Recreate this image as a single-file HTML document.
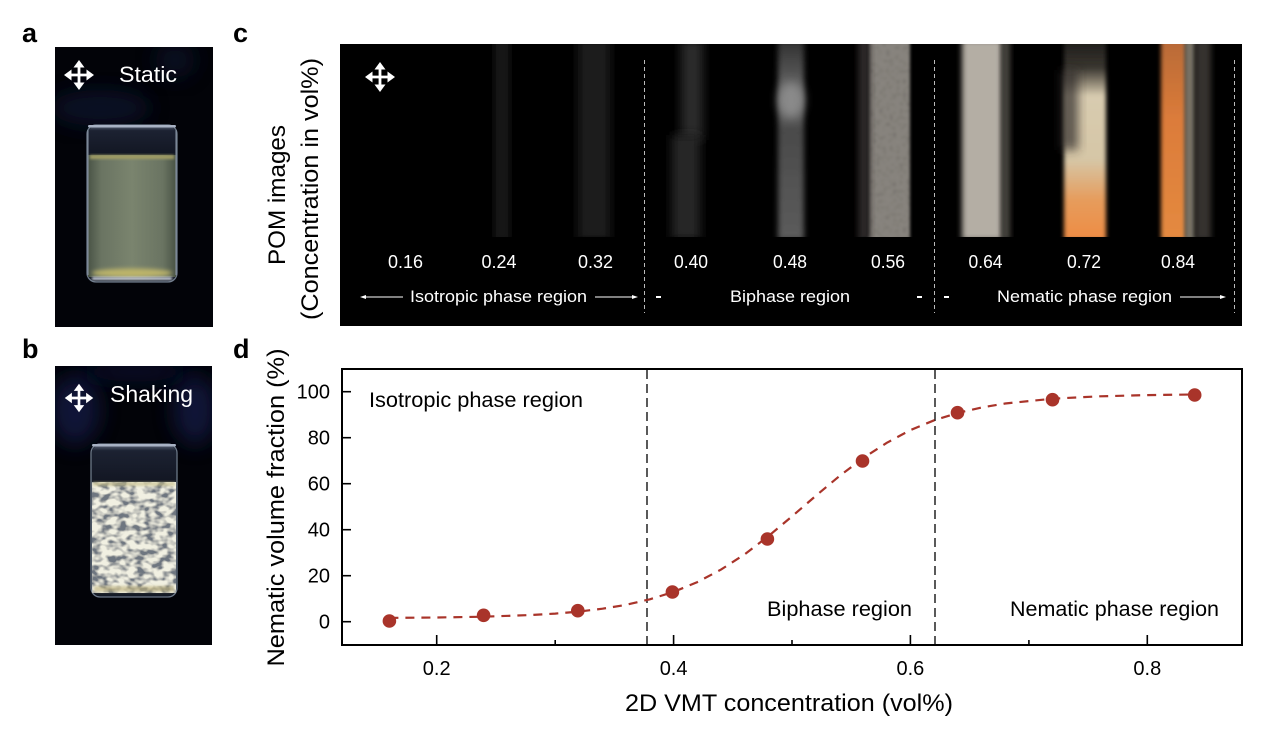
<!DOCTYPE html>
<html>
<head>
<meta charset="utf-8">
<style>
html,body{margin:0;padding:0;background:#fff;}
svg{display:block;}
</style>
</head>
<body>
<svg xmlns="http://www.w3.org/2000/svg" width="1268" height="746" viewBox="0 0 1268 746" font-family="'Liberation Sans', Arial, sans-serif">
<defs>
  <filter id="b1" x="-50%" y="-50%" width="200%" height="200%"><feGaussianBlur stdDeviation="1.2"/></filter>
  <filter id="b2" x="-50%" y="-50%" width="200%" height="200%"><feGaussianBlur stdDeviation="2"/></filter>
  <filter id="b3" x="-50%" y="-50%" width="200%" height="200%"><feGaussianBlur stdDeviation="3"/></filter>
  <filter id="b5" x="-50%" y="-50%" width="200%" height="200%"><feGaussianBlur stdDeviation="5"/></filter>
  <filter id="b10" x="-50%" y="-50%" width="200%" height="200%"><feGaussianBlur stdDeviation="10"/></filter>
  <filter id="mottle" x="0" y="0" width="1" height="1">
    <feTurbulence type="fractalNoise" baseFrequency="0.11 0.16" numOctaves="2" seed="5" result="n"/>
    <feColorMatrix in="n" type="matrix" values="0 0 0 0 0.88  0 0 0 0 0.87  0 0 0 0 0.76  3.4 0 0 0 -1.1" result="c"/>
    <feComposite in="c" in2="SourceGraphic" operator="in" result="m"/>
    <feMerge><feMergeNode in="SourceGraphic"/><feMergeNode in="m"/></feMerge>
  </filter>
  <filter id="speck" x="-30%" y="0" width="160%" height="1">
    <feTurbulence type="fractalNoise" baseFrequency="0.3" numOctaves="1" seed="2" result="n"/>
    <feColorMatrix in="n" type="matrix" values="0 0 0 0 0.15  0 0 0 0 0.14  0 0 0 0 0.13  -3 0 0 0 1.5" result="c"/>
    <feComposite in="c" in2="SourceGraphic" operator="in" result="m"/>
    <feMerge><feMergeNode in="SourceGraphic"/><feMergeNode in="m"/></feMerge>
    <feGaussianBlur stdDeviation="0.8"/>
  </filter>
  <linearGradient id="liqA" x1="0" y1="0" x2="1" y2="0">
    <stop offset="0" stop-color="#4a5446"/>
    <stop offset="0.15" stop-color="#6a7462"/>
    <stop offset="0.5" stop-color="#7a846e"/>
    <stop offset="0.85" stop-color="#6a7462"/>
    <stop offset="1" stop-color="#4a5446"/>
  </linearGradient>
  <linearGradient id="glassTop" x1="0" y1="0" x2="0" y2="1">
    <stop offset="0" stop-color="#5a6478"/>
    <stop offset="0.15" stop-color="#1c2232"/>
    <stop offset="1" stop-color="#121622"/>
  </linearGradient>
  <linearGradient id="s072" x1="0" y1="0" x2="0" y2="1">
    <stop offset="0" stop-color="#1e1c1a"/>
    <stop offset="0.14" stop-color="#3a3630"/>
    <stop offset="0.28" stop-color="#d8ccb0"/>
    <stop offset="0.6" stop-color="#d6c6a6"/>
    <stop offset="0.8" stop-color="#e69c5c"/>
    <stop offset="1" stop-color="#ee8c44"/>
  </linearGradient>
  <linearGradient id="s084" x1="0" y1="0" x2="0" y2="1">
    <stop offset="0" stop-color="#b86a38"/>
    <stop offset="0.4" stop-color="#dc7c3a"/>
    <stop offset="1" stop-color="#e48a40"/>
  </linearGradient>
  <linearGradient id="s048" x1="0" y1="0" x2="0" y2="1">
    <stop offset="0" stop-color="#303030"/>
    <stop offset="0.3" stop-color="#707070"/>
    <stop offset="0.45" stop-color="#4a4a4a"/>
    <stop offset="1" stop-color="#5c5c5c"/>
  </linearGradient>
  <clipPath id="cphoto"><rect x="340" y="44" width="902" height="193"/></clipPath>
  <clipPath id="cpa"><rect x="55" y="47" width="158" height="280"/></clipPath>
  <clipPath id="cpb"><rect x="55" y="366" width="157" height="279"/></clipPath>
  <g id="cross">
    <line x1="-9" y1="0" x2="9" y2="0" stroke="#fff" stroke-width="2.8"/>
    <line x1="0" y1="-9" x2="0" y2="9" stroke="#fff" stroke-width="2.8"/>
    <polygon points="15,0 7.5,-5.5 7.5,5.5" fill="#fff"/>
    <polygon points="-15,0 -7.5,-5.5 -7.5,5.5" fill="#fff"/>
    <polygon points="0,-15 -5.5,-7.5 5.5,-7.5" fill="#fff"/>
    <polygon points="0,15 -5.5,7.5 5.5,7.5" fill="#fff"/>
  </g>
</defs>

<rect width="1268" height="746" fill="#fff"/>

<!-- panel labels -->
<text x="22" y="42" font-size="27" font-weight="bold" fill="#000">a</text>
<text x="22" y="358" font-size="27" font-weight="bold" fill="#000">b</text>
<text x="233" y="42" font-size="27" font-weight="bold" fill="#000">c</text>
<text x="233" y="358" font-size="27" font-weight="bold" fill="#000">d</text>

<!-- Panel a -->
<g clip-path="url(#cpa)">
  <rect x="55" y="47" width="158" height="280" fill="#020308"/>
  <ellipse cx="100" cy="108" rx="50" ry="18" fill="#0c1430" filter="url(#b10)" opacity="0.7"/>
  <ellipse cx="175" cy="60" rx="20" ry="18" fill="#0c1430" filter="url(#b10)" opacity="0.6"/>
  <!-- vial -->
  <rect x="87" y="125" width="90" height="157" rx="9" fill="#141a26" stroke="#6c7888" stroke-width="1.3"/>
  <rect x="88" y="126" width="88" height="30" rx="8" fill="url(#glassTop)"/>
  <rect x="88" y="155" width="88" height="122" fill="url(#liqA)"/>
  <rect x="90" y="155" width="84" height="4" fill="#a09c64" filter="url(#b1)"/>
  <ellipse cx="132" cy="273" rx="40" ry="4.5" fill="#bcb46a" filter="url(#b2)"/>
  <rect x="92" y="277" width="80" height="3" fill="#d0d6e2" filter="url(#b1)"/>
  <rect x="88" y="125" width="88" height="2.5" rx="1.2" fill="#a8b2c4"/>
  <line x1="88" y1="130" x2="88" y2="275" stroke="#8a96a6" stroke-width="1"/>
  <line x1="176" y1="130" x2="176" y2="275" stroke="#8a96a6" stroke-width="1"/>
  <use href="#cross" transform="translate(79,75) scale(1)"/>
  <text x="119" y="82" font-size="22.5" fill="#fff" textLength="58" lengthAdjust="spacingAndGlyphs">Static</text>
</g>

<!-- Panel b -->
<g clip-path="url(#cpb)">
  <rect x="55" y="366" width="157" height="279" fill="#020308"/>
  <ellipse cx="75" cy="410" rx="25" ry="35" fill="#121e4c" filter="url(#b10)" opacity="0.7"/>
  <ellipse cx="195" cy="410" rx="22" ry="35" fill="#121e4c" filter="url(#b10)" opacity="0.7"/>
  <ellipse cx="135" cy="372" rx="55" ry="10" fill="#0e1840" filter="url(#b10)" opacity="0.6"/>
  <rect x="91" y="444" width="86" height="153" rx="9" fill="#141a26" stroke="#6c7888" stroke-width="1.3"/>
  <rect x="92" y="445" width="84" height="38" rx="8" fill="url(#glassTop)"/>
  <rect x="92" y="482" width="84" height="111" fill="#6e7680" filter="url(#mottle)"/>
  <rect x="93" y="482" width="82" height="4" fill="#c8c08a" filter="url(#b1)" opacity="0.7"/>
  <rect x="94" y="586" width="80" height="6" fill="#c0b27a" filter="url(#b1)" opacity="0.6"/>
  <rect x="92" y="444" width="84" height="2.5" rx="1.2" fill="#a8b2c4"/>
  <use href="#cross" transform="translate(79,398) scale(0.95)"/>
  <text x="110" y="402" font-size="23" fill="#fff" textLength="83" lengthAdjust="spacingAndGlyphs">Shaking</text>
</g>

<!-- Panel c -->
<rect x="340" y="44" width="902" height="282" fill="#000"/>
<g clip-path="url(#cphoto)">
  <rect x="494" y="40" width="16" height="200" fill="#121212" filter="url(#b3)"/>
  <rect x="578" y="40" width="32" height="200" fill="#1c1c1c" filter="url(#b5)"/>
  <rect x="681" y="40" width="22" height="100" fill="#2c2c2c" filter="url(#b5)"/>
  <rect x="672" y="135" width="28" height="105" fill="#262626" filter="url(#b5)"/>
  <rect x="778" y="40" width="26" height="200" fill="url(#s048)" filter="url(#b3)"/>
  <ellipse cx="791" cy="100" rx="12" ry="18" fill="#8a8a8a" filter="url(#b5)"/>
  <g filter="url(#b1)">
    <rect x="868" y="40" width="42" height="200" fill="#88847e" filter="url(#speck)"/>
  </g>
  <rect x="858" y="40" width="12" height="200" fill="#2a2826" filter="url(#b3)"/>
  <rect x="962" y="40" width="40" height="200" fill="#b4aea4" filter="url(#b3)"/>
  <rect x="1002" y="40" width="8" height="200" fill="#4a4640" filter="url(#b3)"/>
  <rect x="1064" y="40" width="42" height="200" fill="url(#s072)" filter="url(#b2)"/>
  <rect x="1060" y="70" width="18" height="80" fill="#2a2826" filter="url(#b5)" opacity="0.7"/>
  <rect x="1161" y="40" width="25" height="200" fill="url(#s084)" filter="url(#b2)"/>
  <rect x="1185" y="40" width="10" height="200" fill="#7a7468" filter="url(#b2)"/>
  <rect x="1195" y="40" width="16" height="200" fill="#36322e" filter="url(#b3)"/>
</g>
<use href="#cross" transform="translate(380,77) scale(1)"/>
<g stroke="#bbb" stroke-width="1" stroke-dasharray="4 3">
  <line x1="644.5" y1="60" x2="644.5" y2="313"/>
  <line x1="934.5" y1="60" x2="934.5" y2="313"/>
  <line x1="1234.5" y1="60" x2="1234.5" y2="313"/>
</g>
<g fill="#fff" font-size="18" text-anchor="middle">
  <text x="405.5" y="268" textLength="35" lengthAdjust="spacingAndGlyphs">0.16</text>
  <text x="499" y="268" textLength="35" lengthAdjust="spacingAndGlyphs">0.24</text>
  <text x="595.5" y="268" textLength="35" lengthAdjust="spacingAndGlyphs">0.32</text>
  <text x="691" y="268" textLength="34" lengthAdjust="spacingAndGlyphs">0.40</text>
  <text x="790" y="268" textLength="34" lengthAdjust="spacingAndGlyphs">0.48</text>
  <text x="888" y="268" textLength="34" lengthAdjust="spacingAndGlyphs">0.56</text>
  <text x="985.5" y="268" textLength="34" lengthAdjust="spacingAndGlyphs">0.64</text>
  <text x="1084" y="268" textLength="34" lengthAdjust="spacingAndGlyphs">0.72</text>
  <text x="1178" y="268" textLength="34" lengthAdjust="spacingAndGlyphs">0.84</text>
</g>
<g fill="#fff" font-size="17">
  <text x="410" y="302" textLength="177" lengthAdjust="spacingAndGlyphs">Isotropic phase region</text>
  <text x="730" y="302" textLength="120" lengthAdjust="spacingAndGlyphs">Biphase region</text>
  <text x="997" y="302" textLength="175" lengthAdjust="spacingAndGlyphs">Nematic phase region</text>
</g>
<g stroke="#fff" stroke-width="1">
  <line x1="364" y1="297" x2="403" y2="297"/>
  <line x1="595" y1="297" x2="634" y2="297"/>
  <line x1="1180" y1="297" x2="1222" y2="297"/>
</g>
<g fill="#fff">
  <polygon points="360,297 366,295 366,299"/>
  <polygon points="638,297 632,295 632,299"/>
  <polygon points="1226,297 1220,295 1220,299"/>
  <rect x="656" y="296" width="5" height="2"/>
  <rect x="917" y="296" width="5" height="2"/>
  <rect x="944" y="296" width="5" height="2"/>
</g>
<text transform="translate(285,195) rotate(-90)" text-anchor="middle" font-size="24" fill="#000" textLength="140" lengthAdjust="spacingAndGlyphs">POM images</text>
<text transform="translate(318,189) rotate(-90)" text-anchor="middle" font-size="24" fill="#000" textLength="262" lengthAdjust="spacingAndGlyphs">(Concentration in vol%)</text>

<!-- Panel d -->
<g stroke="#000" stroke-width="1.3" stroke-dasharray="9 5">
  <line x1="647" y1="370" x2="647" y2="644"/>
  <line x1="935" y1="370" x2="935" y2="644"/>
</g>
<polyline fill="none" stroke="#a9342a" stroke-width="2.2" stroke-dasharray="9 7"
  points="389.4,617.9 436.7,617.5 484.1,616.7 531.5,615.0 555.2,613.6 578.8,611.6 602.5,608.7 626.2,604.8 649.9,599.3 673.6,591.9 697.3,582.1 721.0,569.6 744.7,554.3 768.3,536.2 792.0,516.4 815.7,495.9 839.4,476.1 863.1,458.1 886.8,442.8 910.4,430.1 934.1,420.3 957.8,412.9 981.5,407.5 1005.2,403.5 1052.6,398.7 1099.9,396.3 1147.3,395.1 1194.6,394.5"/>
<g fill="#a9342a">
  <circle cx="389.4" cy="621" r="6.8"/>
  <circle cx="483.6" cy="615.3" r="6.8"/>
  <circle cx="577.8" cy="610.7" r="6.8"/>
  <circle cx="672.4" cy="592" r="6.8"/>
  <circle cx="767.4" cy="539" r="6.8"/>
  <circle cx="862.5" cy="461" r="6.8"/>
  <circle cx="957.5" cy="412.7" r="6.8"/>
  <circle cx="1052.5" cy="399.7" r="6.8"/>
  <circle cx="1194.7" cy="395" r="6.8"/>
</g>
<rect x="342" y="369" width="900" height="276" fill="none" stroke="#000" stroke-width="2"/>
<g stroke="#000" stroke-width="1.6">
  <line x1="342" y1="621.7" x2="351" y2="621.7"/>
  <line x1="342" y1="575.7" x2="351" y2="575.7"/>
  <line x1="342" y1="529.7" x2="351" y2="529.7"/>
  <line x1="342" y1="483.7" x2="351" y2="483.7"/>
  <line x1="342" y1="437.7" x2="351" y2="437.7"/>
  <line x1="342" y1="391.7" x2="351" y2="391.7"/>
  <line x1="436.7" y1="645" x2="436.7" y2="635"/>
  <line x1="673.6" y1="645" x2="673.6" y2="635"/>
  <line x1="910.4" y1="645" x2="910.4" y2="635"/>
  <line x1="1147.3" y1="645" x2="1147.3" y2="635"/>
  <line x1="555.2" y1="645" x2="555.2" y2="640"/>
  <line x1="792.0" y1="645" x2="792.0" y2="640"/>
  <line x1="1028.9" y1="645" x2="1028.9" y2="640"/>
</g>
<g font-size="20" fill="#000" text-anchor="end">
  <text x="330" y="628.7">0</text>
  <text x="330" y="582.7">20</text>
  <text x="330" y="536.7">40</text>
  <text x="330" y="490.7">60</text>
  <text x="330" y="444.7">80</text>
  <text x="330" y="398.7">100</text>
</g>
<g font-size="20" fill="#000" text-anchor="middle">
  <text x="436.7" y="675">0.2</text>
  <text x="673.6" y="675">0.4</text>
  <text x="910.4" y="675">0.6</text>
  <text x="1147.3" y="675">0.8</text>
</g>
<g font-size="21.5" fill="#000">
  <text x="369" y="407" textLength="214" lengthAdjust="spacingAndGlyphs">Isotropic phase region</text>
  <text x="767" y="616" textLength="145" lengthAdjust="spacingAndGlyphs">Biphase region</text>
  <text x="1010" y="616" textLength="209" lengthAdjust="spacingAndGlyphs">Nematic phase region</text>
</g>
<text x="789" y="711" text-anchor="middle" font-size="24" fill="#000" textLength="328" lengthAdjust="spacingAndGlyphs">2D VMT concentration (vol%)</text>
<text transform="translate(284,507.5) rotate(-90)" text-anchor="middle" font-size="24" fill="#000" textLength="318" lengthAdjust="spacingAndGlyphs">Nematic volume fraction (%)</text>
</svg>
</body>
</html>
